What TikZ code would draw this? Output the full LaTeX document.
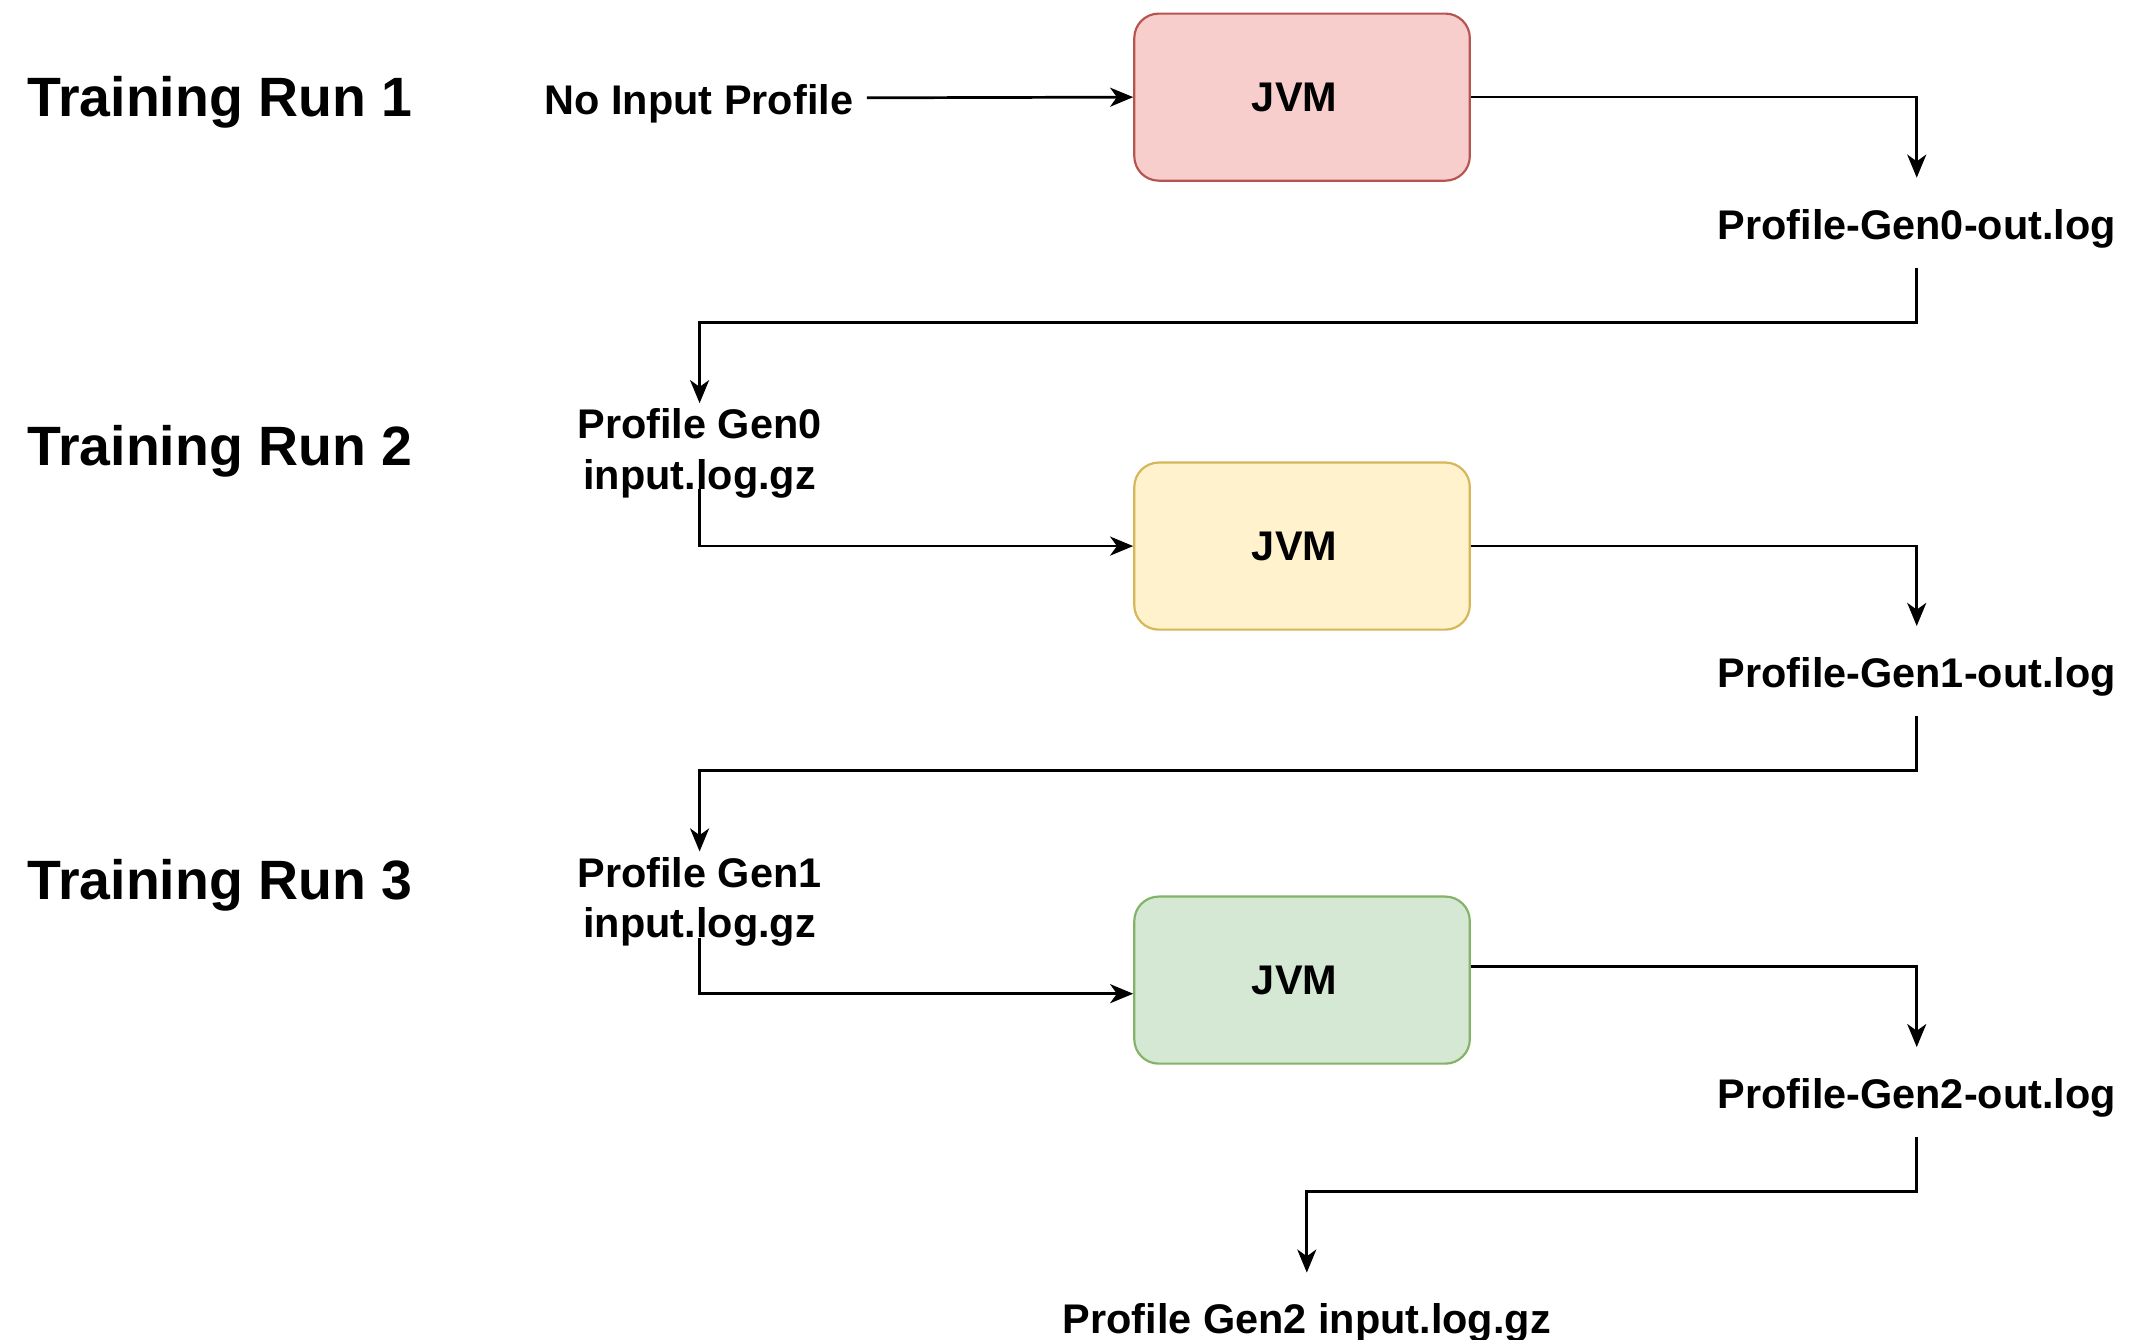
\documentclass[tikz,border=0pt]{standalone}
\usepackage{fontspec}
\setmainfont{Liberation Sans}
\usetikzlibrary{arrows.meta}
\definecolor{redfill}{HTML}{F8CECC}\definecolor{redline}{HTML}{B85450}
\definecolor{yelfill}{HTML}{FFF2CC}\definecolor{yelline}{HTML}{D6B656}
\definecolor{grnfill}{HTML}{D5E8D4}\definecolor{grnline}{HTML}{82B366}
\tikzset{
  runlabel/.style={anchor=west,inner sep=0pt,font=\bfseries\fontsize{40.8}{48}\selectfont},
  lbl/.style={inner sep=0pt,align=center,text height=30pt,text depth=6pt,font=\bfseries\fontsize{30.5}{37}\selectfont},
  twolbl/.style={lbl,text height=63pt,text depth=0pt},
  jvmbox/.style={draw,line width=1.6pt,rounded corners=18pt,minimum width=247pt,minimum height=123pt,inner sep=0pt,font=\bfseries\fontsize{30.5}{37}\selectfont},
  conn/.style={line width=2pt,-{Stealth[length=17pt,width=14pt,inset=5pt]}},
}
\begin{document}
\begin{tikzpicture}[x=1pt,y=-1pt]
\useasboundingbox (0,0) rectangle (1568,986);
% run labels
\node[runlabel] (tr1) at (20,75) {Training Run 1};
\node[runlabel] (tr2) at (20,332) {Training Run 2};
\node[runlabel] (tr3) at (20,652) {Training Run 3};
% JVM boxes
\node[jvmbox,fill=redfill,draw=redline] (jvm1) at (958.5,71.5) {JVM\kern11pt};
\node[jvmbox,fill=yelfill,draw=yelline] (jvm2) at (958.5,402) {JVM\kern11pt};
\node[jvmbox,fill=grnfill,draw=grnline] (jvm3) at (958.5,721.5) {JVM\kern11pt};
% labels
\node[lbl,inner xsep=10pt] (nip) at (514.5,72) {No Input Profile};
\node[lbl,minimum height=66pt] (g0out) at (1411,164) {Profile-Gen0-out.log};
\node[twolbl] (in0) at (515,328.5) {Profile Gen0\\input.log.gz};
\node[lbl,minimum height=66pt] (g1out) at (1411,494) {Profile-Gen1-out.log};
\node[twolbl] (in1) at (515,658.5) {Profile Gen1\\input.log.gz};
\node[lbl,minimum height=66pt] (g2out) at (1411,804) {Profile-Gen2-out.log};
\node[lbl,minimum height=66pt] (in2) at (962,970) {Profile Gen2 input.log.gz};
% connectors
\draw[conn] (nip.east) -- (jvm1.west);
\draw[conn] (jvm1.east) -| (g0out.north);
\draw[conn] (g0out.south) -- ++(0,40) -| (in0.north);
\draw[conn] (in0.south) |- (jvm2.west);
\draw[conn] (jvm2.east) -| (g1out.north);
\draw[conn] (g1out.south) -- ++(0,40) -| (in1.north);
\draw[conn] (in1.south) |- ([yshift=-10pt]jvm3.west);
\draw[conn] ([yshift=10pt]jvm3.east) -| (g2out.north);
\draw[conn] (g2out.south) -- ++(0,40) -| (in2.north);
\end{tikzpicture}
\end{document}
